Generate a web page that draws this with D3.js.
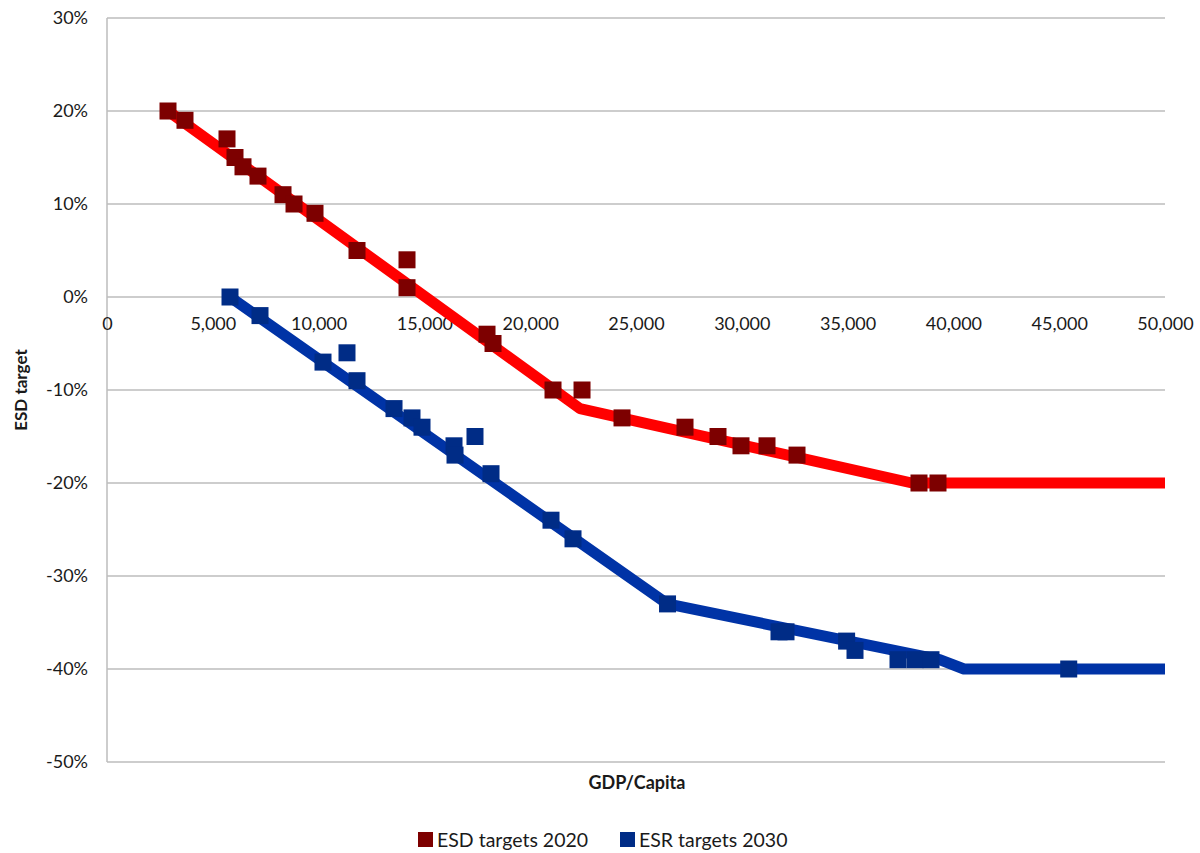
<!DOCTYPE html>
<html>
<head>
<meta charset="utf-8">
<script src="https://cdn.jsdelivr.net/npm/d3@7"></script>
<style>
  body { margin: 0; background: #fff; }
  svg text { font-family: Lato, "Open Sans", sans-serif; fill: #1a1a1a; }
</style>
</head>
<body>
<svg width="1200" height="853"></svg>
<script>
// ESD targets 2020 (markers) and the rule line behind them
var esdGdp = [2883, 3686, 5671, 6049, 6427, 7136, 8318, 8838, 9830, 11815, 14178, 14178,
    17959, 18243, 21078, 22449, 24339, 27316, 28875, 29962, 31191, 32609, 38374, 39272];
var esdTarget = [20, 19, 17, 15, 14, 13, 11, 10, 9, 5, 4, 1,
    -4, -5, -10, -10, -13, -14, -15, -16, -16, -17, -20, -20];
var esdLineGdp = [2883, 22354, 38040, 50000];
var esdLineTarget = [20, -12, -20, -20];

// ESR targets 2030
var esrGdp = [5813, 7231, 10208, 11342, 11815, 13564, 14414, 14887, 16399, 16447, 17391, 18148,
    20983, 22023, 26490, 31758, 32089, 34953, 35350, 37382, 38185, 38941, 45450];
var esrTarget = [0, -2, -7, -6, -9, -12, -13, -14, -16, -17, -15, -19,
    -24, -26, -33, -36, -36, -37, -38, -39, -39, -39, -40];
var esrLineGdp = [5813, 26490, 39350, 40500, 50000];
var esrLineTarget = [0, -33, -39, -40, -40];

var xTicks = [0, 5000, 10000, 15000, 20000, 25000, 30000, 35000, 40000, 45000, 50000];
var yTicks = [30, 20, 10, 0, -10, -20, -30, -40, -50];

var legendNames = ["ESD targets 2020", "ESR targets 2030"];

function draw() {
    var svg = d3.select('svg');
    var margin = { top: 18, right: 35, bottom: 91, left: 107 };
    var width = +svg.attr('width') - margin.left - margin.right;
    var height = +svg.attr('height') - margin.top - margin.bottom;

    var x = d3.scaleLinear().domain([0, 50000]).range([0, width]);
    var y = d3.scaleLinear().domain([-50, 30]).range([height, 0]);

    var g = svg.append('g').attr('transform', 'translate(' + margin.left + ',' + margin.top + ')');

    // horizontal gridlines
    g.selectAll('.grid').data(yTicks).enter().append('line')
        .attr('class', 'grid')
        .attr('x1', 0).attr('x2', width)
        .attr('y1', function (d) { return y(d); })
        .attr('y2', function (d) { return y(d); })
        .attr('stroke', '#bdbdbd').attr('stroke-width', 1.5);

    // left axis line
    g.append('line')
        .attr('x1', 0).attr('x2', 0).attr('y1', 0).attr('y2', height)
        .attr('stroke', '#bdbdbd').attr('stroke-width', 1.5);

    // y tick labels
    var yAxis = d3.axisLeft(y).tickValues(yTicks)
        .tickFormat(function (d) { return d + '%'; })
        .tickSize(0).tickPadding(19);
    g.append('g').call(yAxis)
        .call(function (a) { a.select('.domain').remove(); })
        .selectAll('text').style('font-size', '18px').attr('fill', '#1a1a1a');

    // x tick labels, hanging below the 0% line
    var xAxis = d3.axisBottom(x).tickValues(xTicks)
        .tickFormat(d3.format(','))
        .tickSize(0).tickPadding(20);
    g.append('g').attr('transform', 'translate(0,' + y(0) + ')').call(xAxis)
        .call(function (a) { a.select('.domain').remove(); })
        .selectAll('text').style('font-size', '18px').attr('fill', '#1a1a1a');

    var line = d3.line()
        .x(function (d) { return x(d[0]); })
        .y(function (d) { return y(d[1]); });

    var series = [
        { line: d3.zip(esdLineGdp, esdLineTarget), pts: d3.zip(esdGdp, esdTarget), lineColor: '#ff0000', markColor: '#7d0000' },
        { line: d3.zip(esrLineGdp, esrLineTarget), pts: d3.zip(esrGdp, esrTarget), lineColor: '#0033a6', markColor: '#002c86' }
    ];
    var mark = 17;

    series.forEach(function (s) {
        g.append('path').datum(s.line)
            .attr('d', line)
            .attr('fill', 'none')
            .attr('stroke', s.lineColor)
            .attr('stroke-width', 11)
            .attr('stroke-linejoin', 'round');
        g.selectAll(null).data(s.pts).enter().append('rect')
            .attr('x', function (d) { return x(d[0]) - mark / 2; })
            .attr('y', function (d) { return y(d[1]) - mark / 2; })
            .attr('width', mark).attr('height', mark)
            .attr('fill', s.markColor);
    });

    // axis titles
    svg.append('text')
        .attr('transform', 'translate(27,' + (margin.top + y(-10)) + ') rotate(-90)')
        .attr('text-anchor', 'middle')
        .style('font-size', '17px').style('font-weight', 'bold')
        .text('ESD target');
    svg.append('text')
        .attr('x', 637).attr('y', 789)
        .attr('text-anchor', 'middle')
        .style('font-size', '18px').style('font-weight', 'bold')
        .text('GDP/Capita');

    // legend
    var legend = svg.append('g').attr('transform', 'translate(418,840)');
    var item = legend.selectAll('.item').data(legendNames).enter().append('g')
        .attr('class', 'item')
        .attr('transform', function (d, i) { return 'translate(' + (i * 202) + ',0)'; });
    item.append('rect')
        .attr('x', 0).attr('y', -8).attr('width', 15).attr('height', 15)
        .attr('fill', function (d, i) { return series[i].markColor; });
    item.append('text')
        .attr('x', 19).attr('y', 7)
        .style('font-size', '19.5px')
        .text(function (d) { return d; });
}
draw();
</script>
</body>
</html>
